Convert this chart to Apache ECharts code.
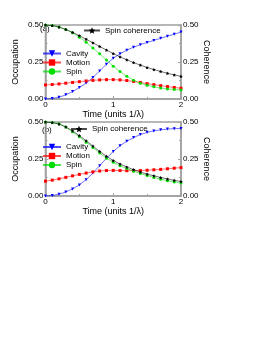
<!DOCTYPE html>
<html><head><meta charset="utf-8">
<script src="https://cdn.jsdelivr.net/npm/echarts@6/dist/echarts.min.js"></script>
<style>html,body{margin:0;padding:0;background:#fff}#c{width:278px;height:360px}</style>
</head><body><div id="c"></div>
<script>
const time = [0,0.1,0.2,0.3,0.4,0.5,0.6,0.7,0.8,0.9,1.0,1.1,1.2,1.3,1.4,1.5,1.6,1.7,1.8,1.9,2.0];
const yTicks = ['0.00','0.25','0.50'];
const xTicks = ['0','1','2'];
// panel (a)
const cavityA = [0,0.003,0.012,0.028,0.05,0.077,0.108,0.145,0.19,0.235,0.275,0.305,0.33,0.35,0.367,0.382,0.396,0.41,0.424,0.438,0.452];
const motionA = [0.095,0.098,0.102,0.107,0.112,0.117,0.122,0.126,0.129,0.131,0.131,0.129,0.125,0.119,0.112,0.104,0.097,0.09,0.084,0.078,0.073];
const spinA = [0.5,0.497,0.487,0.47,0.447,0.418,0.383,0.345,0.305,0.263,0.222,0.185,0.153,0.127,0.107,0.093,0.082,0.074,0.068,0.064,0.061];
const coherenceA = [0.5,0.496,0.486,0.47,0.45,0.428,0.404,0.38,0.355,0.331,0.307,0.285,0.265,0.246,0.229,0.213,0.199,0.186,0.174,0.163,0.153];
// panel (b)
const cavityB = [0,0.003,0.012,0.027,0.048,0.075,0.11,0.155,0.205,0.255,0.3,0.34,0.37,0.395,0.415,0.43,0.44,0.447,0.452,0.455,0.456];
const motionB = [0.1,0.107,0.116,0.126,0.136,0.146,0.155,0.163,0.169,0.172,0.173,0.172,0.171,0.171,0.172,0.174,0.177,0.18,0.184,0.188,0.192];
const spinB = [0.5,0.497,0.488,0.466,0.434,0.4,0.364,0.328,0.291,0.255,0.228,0.205,0.185,0.168,0.152,0.138,0.125,0.113,0.103,0.095,0.088];
const coherenceB = [0.5,0.496,0.486,0.467,0.44,0.408,0.373,0.337,0.301,0.268,0.24,0.216,0.196,0.178,0.162,0.148,0.136,0.125,0.115,0.106,0.098];

const FONT = 'Liberation Sans';
const STAR = 'path://M0,-10L2.94,-4.05L9.51,-3.09L4.76,1.55L5.88,8.09L0,5L-5.88,8.09L-4.76,1.55L-9.51,-3.09L-2.94,-4.05Z';
const frame = '#a0a0a0';
const toPairs = arr => arr.map((v,i)=>[time[i], v]);

function xAxisCfg(gi){
  return {gridIndex: gi, type:'value', min:0, max:2, interval:1,
    name:'Time (units 1/\u03bb)', nameLocation:'middle', nameGap:10,
    nameTextStyle:{fontFamily:FONT, fontSize:9, color:'#000'},
    axisLine:{show:true, lineStyle:{color:frame, width:1.5}},
    axisTick:{inside:true, length:3, lineStyle:{color:frame}},
    minorTick:{show:true, splitNumber:2, length:2, lineStyle:{color:frame}},
    splitLine:{show:false},
    axisLabel:{margin:2, fontFamily:FONT, fontSize:8, color:'#000', formatter: v => xTicks[Math.round(v)]}};
}
function yAxisCfg(gi, pos, name){
  return {gridIndex: gi, type:'value', min:0, max:0.5, interval:0.25, position:pos,
    name:name, nameLocation:'middle', nameGap: pos==='left'?25:18, nameRotate: pos==='left'?90:-90,
    nameTextStyle:{fontFamily:FONT, fontSize:9, color:'#000'},
    axisLine:{show:true, onZero:false, lineStyle:{color:frame, width:1.5}},
    axisTick:{inside:true, length:3, lineStyle:{color:frame}},
    minorTick:{show:true, splitNumber:2, length:2, lineStyle:{color:frame}},
    splitLine:{show:false},
    axisLabel:{margin:2, fontFamily:FONT, fontSize:8, color:'#000', formatter: v => yTicks[Math.round(v/0.25)]}};
}
function ser(name, data, gi, color, symbol, rot, yi){
  return {name, type:'line', xAxisIndex:gi, yAxisIndex:yi, data:toPairs(data),
    symbol, symbolSize: symbol===STAR?3.5:3, symbolRotate:rot, showSymbol:true,
    itemStyle:{color}, lineStyle:{color, width:0.8, opacity:0.7}, z: 3};
}
const series = [];
[[cavityA,motionA,spinA,coherenceA],[cavityB,motionB,spinB,coherenceB]].forEach((d,gi)=>{
  series.push(ser('Cavity', d[0], gi, '#0000ff', 'triangle', 180, gi*2));
  series.push(ser('Motion', d[1], gi, '#ff0000', 'rect', 0, gi*2));
  series.push(ser('Spin', d[2], gi, '#00dd00', 'circle', 0, gi*2));
  series.push(ser('Spin coherence', d[3], gi, '#000000', STAR, 0, gi*2+1));
});
const legTxt = {fontFamily:FONT, fontSize:8, color:'#000'};
const option = {
  animation:false,
  grid:[
    {left:38, top:25, width:143, height:74, show:true, borderColor:frame, borderWidth:1.5},
    {left:38, top:122, width:143, height:74, show:true, borderColor:frame, borderWidth:1.5}
  ],
  xAxis:[xAxisCfg(0), xAxisCfg(1)],
  yAxis:[yAxisCfg(0,'left','Occupation'), yAxisCfg(0,'right','Coherence'),
         yAxisCfg(1,'left','Occupation'), yAxisCfg(1,'right','Coherence')],
  legend:[
    {data:['Cavity','Motion','Spin'], orient:'vertical', left:40, top:47.5, padding:2, itemWidth:18, itemHeight:8, itemGap:1, itemTextGap:4, textStyle:legTxt, selectedMode:false},
    {data:['Spin coherence'], left:81, top:24.5, padding:2, itemWidth:16, itemHeight:8, itemTextGap:4, textStyle:legTxt, selectedMode:false},
    {data:['Cavity','Motion','Spin'], orient:'vertical', left:40, top:141, padding:2, itemWidth:18, itemHeight:8, itemGap:1, itemTextGap:4, textStyle:legTxt, selectedMode:false},
    {data:['Spin coherence'], left:68, top:123, padding:2, itemWidth:16, itemHeight:8, itemTextGap:4, textStyle:legTxt, selectedMode:false}
  ],
  graphic:[
    {type:'text', left:40, top:25, style:{text:'(a)', font:'8px "Liberation Sans"', fill:'#000'}},
    {type:'text', left:42, top:126, style:{text:'(b)', font:'8px "Liberation Sans"', fill:'#000'}}
  ],
  series
};
const chart = echarts.init(document.getElementById('c'), null, {renderer:'canvas'});
chart.setOption(option);
</script></body></html>
